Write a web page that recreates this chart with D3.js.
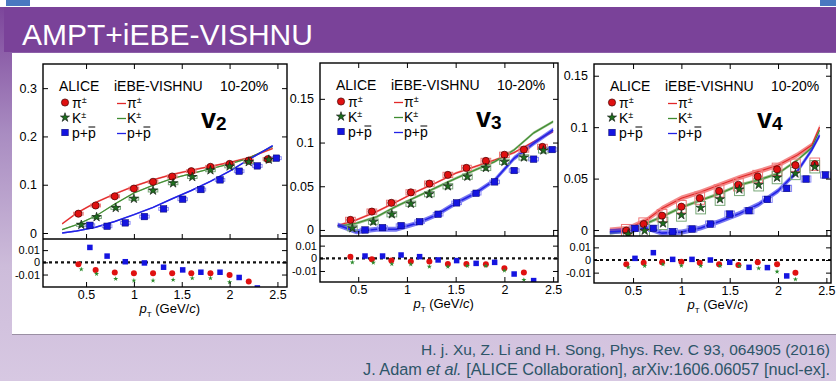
<!DOCTYPE html>
<html>
<head>
<meta charset="utf-8">
<script src="https://cdn.jsdelivr.net/npm/d3@7"></script>
<style>
  body { margin: 0; background: #fff; }
  svg { display: block; }
  text { font-family: "Liberation Sans", Arial, Helvetica, sans-serif; }
</style>
</head>
<body>
<svg id="c" width="836" height="381"></svg>
<script>
// ---- data ----
const ptTicks = [0.5, 1, 1.5, 2, 2.5];
const ratioTicks = [-0.01, 0, 0.01];
const v2YTicks = [0, 0.1, 0.2, 0.3];
const v3YTicks = [0, 0.05, 0.1, 0.15];
const v4YTicks = [0, 0.05, 0.1, 0.15];

// v2
const v2PionPt = [0.42, 0.6, 0.8, 1.0, 1.2, 1.4, 1.6, 1.8, 2.0, 2.2, 2.4];
const v2Pion = [0.040, 0.057, 0.076, 0.092, 0.106, 0.117, 0.128, 0.137, 0.143, 0.150, 0.153];
const v2KaonPt = [0.45, 0.61, 0.81, 1.0, 1.2, 1.41, 1.61, 1.8, 2.0, 2.2, 2.41];
const v2Kaon = [0.017, 0.033, 0.052, 0.071, 0.088, 0.103, 0.116, 0.130, 0.138, 0.147, 0.152];
const v2ProtonPt = [0.54, 0.72, 0.91, 1.11, 1.31, 1.51, 1.70, 1.90, 2.10, 2.29, 2.49];
const v2Proton = [0.016, 0.014, 0.021, 0.034, 0.050, 0.070, 0.090, 0.110, 0.128, 0.139, 0.155];
const v2PionRatio = [-0.0016, -0.0062, -0.0084, -0.0089, -0.0089, -0.0089, -0.0089, -0.0089, -0.0103, -0.0157];
const v2KaonRatio = [-0.0057, -0.0095, -0.0135, -0.0149, -0.0149, -0.0143, -0.013, -0.013, -0.0162];
const v2ProtonRatio = [0.0122, 0.0051, 0.0005, -0.0005, -0.004, -0.0062, -0.0081, -0.0081, -0.0124, -0.021];
const v2ModelPt = [0.25, 0.4, 0.6, 0.8, 1.0, 1.2, 1.4, 1.6, 1.8, 2.0, 2.2, 2.45];
const v2PionModel = [0.019, 0.041, 0.063, 0.081, 0.097, 0.110, 0.121, 0.130, 0.138, 0.146, 0.156, 0.175];
const v2KaonModel = [0.007, 0.017, 0.035, 0.060, 0.083, 0.099, 0.113, 0.123, 0.133, 0.143, 0.155, 0.179];
const v2ProtonModel = [0.0, 0.004, 0.012, 0.024, 0.038, 0.053, 0.071, 0.088, 0.107, 0.128, 0.152, 0.181];
const v2Band = [0.002, 0.0015, 0.0015];
const v2Sys = [0.003, 0.003, 0.003];

// v3
const v3PionPt = [0.42, 0.64, 0.84, 1.04, 1.23, 1.42, 1.61, 1.81, 2.0, 2.2, 2.39];
const v3Pion = [0.0115, 0.021, 0.031, 0.043, 0.053, 0.063, 0.071, 0.079, 0.086, 0.092, 0.095];
const v3KaonPt = [0.44, 0.655, 0.845, 1.04, 1.23, 1.42, 1.62, 1.81, 2.0, 2.2, 2.4];
const v3Kaon = [0.002, 0.0095, 0.018, 0.030, 0.041, 0.050, 0.061, 0.071, 0.078, 0.083, 0.091];
const v3ProtonPt = [0.57, 0.75, 0.94, 1.13, 1.32, 1.51, 1.71, 1.90, 2.10, 2.30, 2.49];
const v3Proton = [0.0, 0.0027, 0.005, 0.0095, 0.018, 0.031, 0.042, 0.055, 0.068, 0.081, 0.092];
const v3PionRatio = [0.0013, -0.0008, -0.0018, -0.0026, -0.0026, -0.0045, -0.0045, -0.0047, -0.0079, -0.0113];
const v3KaonRatio = [-0.0032, -0.0034, -0.0045, -0.0047, -0.0066, -0.0066, -0.006, -0.006, -0.0097, -0.017];
const v3ProtonRatio = [0.0018, 0.0018, 0.0026, 0.0013, -0.0013, -0.0018, -0.004, -0.0032, -0.0124, -0.0176];
const v3ModelPt = [0.29, 0.48, 0.69, 0.89, 1.1, 1.3, 1.5, 1.7, 1.9, 2.1, 2.3, 2.5];
const v3PionModel = [0.005, 0.0115, 0.021, 0.032, 0.044, 0.054, 0.065, 0.0725, 0.080, 0.0885, 0.101, 0.1125];
const v3KaonModel = [0.004, 0.0076, 0.015, 0.027, 0.038, 0.0485, 0.059, 0.0687, 0.078, 0.0916, 0.111, 0.124];
const v3ProtonModel = [0.0057, -0.002, 0.0008, 0.0008, 0.0076, 0.017, 0.0305, 0.042, 0.057, 0.082, 0.099, 0.1145];
const v3Band = [0.0012, 0.0015, 0.0028];
const v3Sys = [0.003, 0.003, 0.002];

// v4
const v4PionPt = [0.43, 0.61, 0.80, 1.0, 1.19, 1.39, 1.59, 1.79, 1.99, 2.18, 2.38];
const v4Pion = [-0.0006, 0.0058, 0.014, 0.0227, 0.031, 0.038, 0.044, 0.052, 0.059, 0.063, 0.064];
const v4KaonPt = [0.45, 0.62, 0.81, 1.0, 1.2, 1.4, 1.6, 1.8, 1.99, 2.18, 2.38];
const v4Kaon = [-0.004, -0.0006, 0.0065, 0.0146, 0.0217, 0.030, 0.0395, 0.044, 0.051, 0.055, 0.0615];
const v4ProtonPt = [0.52, 0.71, 0.91, 1.11, 1.30, 1.50, 1.70, 1.89, 2.09, 2.29, 2.49];
const v4Proton = [0.0016, 0.0016, -0.0016, 0.001, 0.0058, 0.0155, 0.0188, 0.0298, 0.0405, 0.0496, 0.0535];
const v4PionRatio = [-0.0034, -0.0021, -0.0018, -0.0013, -0.0021, -0.0034, -0.004, -0.0018, -0.0034, -0.01];
const v4KaonRatio = [-0.0058, -0.0047, -0.0034, -0.0045, -0.0047, -0.0047, -0.0047, -0.0066, -0.0092, -0.0153];
const v4ProtonRatio = [0.0013, 0.0058, 0.0005, 0.0005, 0.0, -0.0018, -0.0058, -0.006, -0.0126, -0.021];
const v4ModelPt = [0.26, 0.45, 0.64, 0.8, 1.0, 1.2, 1.4, 1.6, 1.8, 2.0, 2.2, 2.35, 2.43];
const v4PionModel = [0.0, 0.0016, 0.0097, 0.021, 0.031, 0.037, 0.044, 0.051, 0.057, 0.063, 0.073, 0.0826, 0.100];
const v4KaonModel = [-0.003, -0.0006, 0.0065, 0.013, 0.022, 0.029, 0.0356, 0.0437, 0.0486, 0.055, 0.068, 0.080, 0.097];
const v4ProtonModel = [-0.0016, -0.0006, 0.002, -0.003, -0.002, 0.002, 0.0085, 0.016, 0.025, 0.038, 0.057, 0.078, 0.092];
const v4Band = [0.0025, 0.0015, 0.0025];
const v4Sys = [0.006, 0.006, 0.003];

const headerTitle = 'AMPT+iEBE-VISHNU';
const citeLine1 = 'H. j. Xu, Z. Li and H. Song, Phys. Rev. C 93, 064905 (2016)';

// ---- page ----
const svg = d3.select('#c');
const defs = svg.append('defs');

const bg = defs.append('linearGradient').attr('id', 'bg')
  .attr('x1', 0).attr('y1', 0).attr('x2', 0).attr('y2', 1);
bg.append('stop').attr('offset', '0%').attr('stop-color', '#7a4299');
bg.append('stop').attr('offset', '35%').attr('stop-color', '#a98cc1');
bg.append('stop').attr('offset', '70%').attr('stop-color', '#cdbcda');
bg.append('stop').attr('offset', '100%').attr('stop-color', '#d7c8e2');

svg.append('rect').attr('width', 836).attr('height', 381).attr('fill', 'url(#bg)');
svg.append('rect').attr('width', 836).attr('height', 7).attr('fill', '#fff');
svg.append('rect').attr('x', 6).attr('width', 24).attr('height', 6).attr('fill', '#4a78c0');
svg.append('rect').attr('x', 820).attr('width', 16).attr('height', 6).attr('fill', '#4a78c0');

// header band
svg.append('rect').attr('x', 4).attr('y', 7).attr('width', 832).attr('height', 45).attr('fill', '#7a4299');
svg.append('text').attr('x', 22).attr('y', 45).attr('fill', '#fff')
  .attr('font-size', 30).text(headerTitle);

// white panel with shadow
svg.append('rect').attr('x', 12).attr('y', 54).attr('width', 824).attr('height', 281).attr('fill', '#9a8fa3');
svg.append('rect').attr('x', 12).attr('y', 53).attr('width', 824).attr('height', 281).attr('fill', '#fff');

// citations
const cite = svg.append('g').attr('fill', '#2d5568').attr('text-anchor', 'end');
cite.append('text').attr('x', 830).attr('y', 355).attr('font-size', 15.5).text(citeLine1);
const c2 = cite.append('text').attr('x', 830).attr('y', 375).attr('font-size', 16.3);
c2.append('tspan').text('J. Adam ');
c2.append('tspan').attr('font-style', 'italic').text('et al.');
c2.append('tspan').text(' [ALICE Collaboration], arXiv:1606.06057 [nucl-ex].');

// ---- colours ----
const col = {
  pion: '#e01010', kaon: '#1d6e1d', proton: '#1414e0',
  pionLine: '#e22828', kaonLine: '#3f8c30', protonLine: '#2222e6',
  pionBand: '#ee5a5a', kaonBand: '#63a050', protonBand: '#3c3cec',
  pionBox: '#f07878', kaonBox: '#78a878', protonBox: '#8a8af8'
};

function marker(g, kind, cx, cy, small) {
  if (kind === 'pion') {
    g.append('circle').attr('cx', cx).attr('cy', cy).attr('r', small ? 3 : 3.6)
      .attr('fill', col.pion).attr('stroke', small ? 'none' : '#400').attr('stroke-width', 0.7);
  } else if (kind === 'kaon') {
    g.append('path').attr('transform', `translate(${cx},${cy})`)
      .attr('d', d3.symbol().type(d3.symbolStar).size(small ? 8 : 26)())
      .attr('fill', small ? '#2b8a2b' : col.kaon).attr('stroke', small ? 'none' : '#111').attr('stroke-width', 0.6);
  } else {
    const s = small ? 5.5 : 6.5;
    g.append('rect').attr('x', cx - s / 2).attr('y', cy - s / 2).attr('width', s).attr('height', s)
      .attr('fill', col.proton).attr('stroke', small ? 'none' : '#006').attr('stroke-width', 0.5);
  }
}

function drawChart(c, idx) {
  const x = d3.scaleLinear().domain(c.xDomain).range([c.left, c.right]);
  const y = d3.scaleLinear().domain(c.yDomain).range([c.mainBottom, c.top]);
  const yr = d3.scaleLinear().domain(c.rDomain).range([c.ratioBottom, c.mainBottom]);
  const g = svg.append('g');

  defs.append('clipPath').attr('id', 'cm' + idx).append('rect')
    .attr('x', c.left).attr('y', c.top).attr('width', c.right - c.left).attr('height', c.mainBottom - c.top);
  defs.append('clipPath').attr('id', 'cr' + idx).append('rect')
    .attr('x', c.left).attr('y', c.mainBottom).attr('width', c.right - c.left).attr('height', c.ratioBottom - c.mainBottom);

  const main = g.append('g').attr('clip-path', `url(#cm${idx})`);
  const ratio = g.append('g').attr('clip-path', `url(#cr${idx})`);

  const kinds = ['pion', 'kaon', 'proton'];
  const models = [c.pionModel, c.kaonModel, c.protonModel];
  const pts = [c.pionPt, c.kaonPt, c.protonPt];
  const vals = [c.pion, c.kaon, c.proton];
  const ratios = [c.pionRatio, c.kaonRatio, c.protonRatio];

  // model bands and lines
  kinds.forEach((k, i) => {
    const d = c.modelPt.map((p, j) => [p, models[i][j]]);
    main.append('path').datum(d)
      .attr('fill', col[k + 'Band']).attr('opacity', 0.7)
      .attr('d', d3.area().x(e => x(e[0])).y0(e => y(e[1] - c.band[i])).y1(e => y(e[1] + c.band[i])));
    main.append('path').datum(d)
      .attr('fill', 'none').attr('stroke', col[k + 'Line']).attr('stroke-width', k === 'proton' ? 1.5 : 1.1)
      .attr('d', d3.line().x(e => x(e[0])).y(e => y(e[1])));
  });

  // sys boxes + points
  kinds.forEach((k, i) => {
    pts[i].forEach((p, j) => {
      const v = vals[i][j];
      main.append('rect')
        .attr('x', x(p - 0.05)).attr('width', x(p + 0.05) - x(p - 0.05))
        .attr('y', y(v + c.sys[i])).attr('height', y(v - c.sys[i]) - y(v + c.sys[i]))
        .attr('fill', 'none').attr('stroke', col[k + 'Box']).attr('stroke-width', 1);
    });
  });
  kinds.forEach((k, i) => {
    pts[i].forEach((p, j) => marker(main, k, x(p), y(vals[i][j]), false));
  });

  // ratio panel
  ratio.append('line').attr('x1', c.left).attr('x2', c.right).attr('y1', yr(0)).attr('y2', yr(0))
    .attr('stroke', '#111').attr('stroke-width', 2.2).attr('stroke-dasharray', '3,3');
  kinds.forEach((k, i) => {
    ratios[i].forEach((v, j) => marker(ratio, k, x(pts[i][j]), yr(v), true));
  });

  // axes (inward ticks)
  const fmt = d => String(d);
  const styleAxis = size => s => {
    s.select('.domain').remove();
    s.selectAll('.tick line').attr('stroke', '#000').attr('stroke-width', 1);
    s.selectAll('.tick text').attr('fill', '#000')
      .style('font-family', '"Liberation Sans", Arial, Helvetica, sans-serif').style('font-size', size + 'px');
  };
  const ax = g.append('g');
  ax.append('g').attr('transform', `translate(${c.left},0)`)
    .call(d3.axisLeft(y).tickValues(c.yTicks).tickSize(-5).tickPadding(6).tickFormat(fmt)).call(styleAxis(12.5));
  ax.append('g').attr('transform', `translate(${c.right},0)`)
    .call(d3.axisRight(y).tickValues(c.yTicks).tickSize(-5).tickFormat('')).call(styleAxis(12.5));
  ax.append('g').attr('transform', `translate(0,${c.top})`)
    .call(d3.axisTop(x).tickValues(ptTicks).tickSize(-5).tickFormat('')).call(styleAxis(12.5));
  ax.append('g').attr('transform', `translate(0,${c.mainBottom})`)
    .call(d3.axisBottom(x).tickValues(ptTicks).tickSize(-5).tickFormat('')).call(styleAxis(12.5));
  ax.append('g').attr('transform', `translate(${c.left},0)`)
    .call(d3.axisLeft(yr).tickValues(ratioTicks).tickSize(-5).tickPadding(3).tickFormat(fmt)).call(styleAxis(11));
  ax.append('g').attr('transform', `translate(${c.right},0)`)
    .call(d3.axisRight(yr).tickValues(ratioTicks).tickSize(-5).tickFormat('')).call(styleAxis(11));
  ax.append('g').attr('transform', `translate(0,${c.ratioBottom})`)
    .call(d3.axisBottom(x).tickValues(ptTicks).tickSize(-5).tickPadding(3).tickFormat(fmt)).call(styleAxis(12.5));

  // frames
  g.append('rect').attr('x', c.left).attr('y', c.top).attr('width', c.right - c.left)
    .attr('height', c.ratioBottom - c.top).attr('fill', 'none').attr('stroke', '#000').attr('stroke-width', 1.4);
  g.append('line').attr('x1', c.left).attr('x2', c.right).attr('y1', c.mainBottom).attr('y2', c.mainBottom)
    .attr('stroke', '#000').attr('stroke-width', 1.4);

  // x title
  const xt = g.append('text').attr('x', (x(0.5) + x(2.5)) / 2 - 12).attr('y', c.ratioBottom + 26)
    .attr('text-anchor', 'middle').attr('font-size', 13);
  xt.append('tspan').attr('font-style', 'italic').text('p');
  xt.append('tspan').attr('font-size', 8).attr('dy', 4).text('T');
  xt.append('tspan').attr('dy', -4).text(' (GeV/');
  xt.append('tspan').attr('font-style', 'italic').text('c');
  xt.append('tspan').text(')');

  // legend
  const L = c.left, T = c.top;
  const lg = g.append('g').attr('fill', '#000');
  lg.append('text').attr('x', L + 16).attr('y', T + 27).attr('font-size', 14).text('ALICE');
  lg.append('text').attr('x', L + 71).attr('y', T + 27).attr('font-size', 14).text('iEBE-VISHNU');
  lg.append('text').attr('x', L + 177).attr('y', T + 27).attr('font-size', 14).text('10-20%');
  const rows = [T + 38.5, T + 53.5, T + 68.5];
  kinds.forEach((k, i) => {
    marker(lg, k, L + c.mx, rows[i], false);
    lg.append('line').attr('x1', L + 74).attr('x2', L + 83).attr('y1', rows[i] + 1).attr('y2', rows[i] + 1)
      .attr('stroke', col[k + 'Line']).attr('stroke-width', 1.3);
    [L + c.mx + 7, L + 84].forEach(tx => {
      const t = lg.append('text').attr('x', tx).attr('y', rows[i] + 5).attr('font-size', 14);
      if (k === 'pion') {
        t.append('tspan').text('\u03c0');
        t.append('tspan').attr('font-size', 9).attr('dy', -5).text('\u00b1');
      } else if (k === 'kaon') {
        t.append('tspan').text('K');
        t.append('tspan').attr('font-size', 9).attr('dy', -5).text('\u00b1');
      } else {
        t.text('p+p');
        const w = t.node().getComputedTextLength();
        lg.append('line').attr('x1', tx + w - 7.3).attr('x2', tx + w - 0.5)
          .attr('y1', rows[i] - 5.5).attr('y2', rows[i] - 5.5)
          .attr('stroke', '#000').attr('stroke-width', 1);
      }
    });
  });

  // harmonic label
  const vl = g.append('text').attr('x', L + c.vx).attr('y', T + 64).attr('font-weight', 'bold');
  vl.append('tspan').attr('font-size', 27).text('v');
  vl.append('tspan').attr('font-size', 19).attr('dy', 2).text(c.n);
}

const charts = [
  { n: '2', left: 43, right: 287, top: 64, mainBottom: 239, ratioBottom: 287,
    xDomain: [0.05, 2.6], yDomain: [-0.0124, 0.35], rDomain: [-0.0202, 0.0191], yTicks: v2YTicks,
    pionPt: v2PionPt, pion: v2Pion, kaonPt: v2KaonPt, kaon: v2Kaon, protonPt: v2ProtonPt, proton: v2Proton,
    pionRatio: v2PionRatio, kaonRatio: v2KaonRatio, protonRatio: v2ProtonRatio,
    modelPt: v2ModelPt, pionModel: v2PionModel, kaonModel: v2KaonModel, protonModel: v2ProtonModel,
    band: v2Band, sys: v2Sys, mx: 22, vx: 158 },
  { n: '3', left: 320, right: 558, top: 63, mainBottom: 236, ratioBottom: 282,
    xDomain: [0.108, 2.55], yDomain: [-0.0069, 0.191], rDomain: [-0.0187, 0.0176], yTicks: v3YTicks,
    pionPt: v3PionPt, pion: v3Pion, kaonPt: v3KaonPt, kaon: v3Kaon, protonPt: v3ProtonPt, proton: v3Proton,
    pionRatio: v3PionRatio, kaonRatio: v3KaonRatio, protonRatio: v3ProtonRatio,
    modelPt: v3ModelPt, pionModel: v3PionModel, kaonModel: v3KaonModel, protonModel: v3ProtonModel,
    band: v3Band, sys: v3Sys, mx: 21, vx: 156 },
  { n: '4', left: 594, right: 831, top: 64, mainBottom: 236, ratioBottom: 283,
    xDomain: [0.096, 2.548], yDomain: [-0.0058, 0.1614], rDomain: [-0.0182, 0.019], yTicks: v4YTicks,
    pionPt: v4PionPt, pion: v4Pion, kaonPt: v4KaonPt, kaon: v4Kaon, protonPt: v4ProtonPt, proton: v4Proton,
    pionRatio: v4PionRatio, kaonRatio: v4KaonRatio, protonRatio: v4ProtonRatio,
    modelPt: v4ModelPt, pionModel: v4PionModel, kaonModel: v4KaonModel, protonModel: v4ProtonModel,
    band: v4Band, sys: v4Sys, mx: 18, vx: 163 }
];

charts.forEach(drawChart);
</script>
</body>
</html>
